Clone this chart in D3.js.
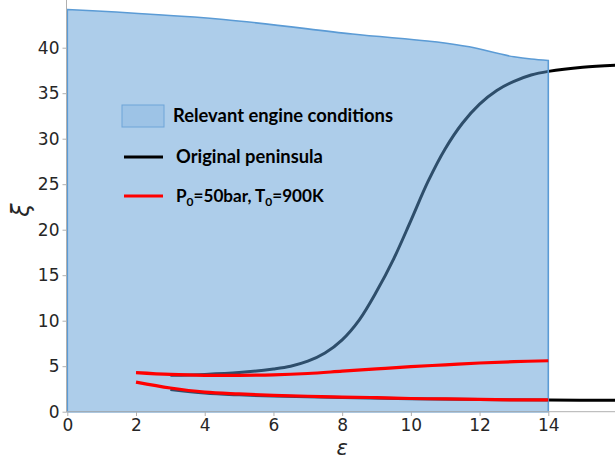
<!DOCTYPE html>
<html><head><meta charset="utf-8">
<script src="https://cdn.jsdelivr.net/npm/d3@7"></script>
<style>body{margin:0;background:#fff}svg{display:block}</style>
</head><body>
<svg id="c" width="615" height="460"></svg>
<script>
// ---- data ----
const xTicks = [0, 2, 4, 6, 8, 10, 12, 14];
const yTicks = [0, 5, 10, 15, 20, 25, 30, 35, 40];
// relevant engine conditions (upper boundary of region, x from 0 to 14)
const regionX = [0, 4.55, 8.3, 11.7, 13.0, 13.5, 14];
const regionTop = [44.2, 43.1, 41.5, 40.1, 39.0, 38.75, 38.6];
// original peninsula, upper branch
const origUpperX = [3, 4, 5, 6, 6.5, 7, 7.5, 8, 8.5, 9, 9.5, 10, 10.5, 11, 11.5, 12, 12.5, 13, 13.5, 14, 15, 16.2];
const origUpperY = [4.0, 4.1, 4.3, 4.7, 5.0, 5.55, 6.45, 7.9, 10.1, 13.2, 16.8, 21.0, 25.3, 28.9, 31.7, 33.8, 35.3, 36.3, 37.0, 37.4, 37.85, 38.1];
// original peninsula, lower branch
const origLowerX = [3, 4, 5, 6, 8, 10, 12, 14, 16.2];
const origLowerY = [2.45, 2.05, 1.85, 1.72, 1.55, 1.42, 1.33, 1.28, 1.25];
// P0=50bar, T0=900K
const redUpperX = [2, 3, 4, 5, 6, 7, 8, 9, 10, 11, 12, 13, 14];
const redUpperY = [4.3, 4.1, 4.0, 4.0, 4.05, 4.2, 4.45, 4.7, 4.95, 5.15, 5.35, 5.5, 5.6];
const redLowerX = [2, 3, 4, 5, 6, 7, 8, 9, 10, 11, 12, 13, 14];
const redLowerY = [3.25, 2.6, 2.15, 1.95, 1.8, 1.7, 1.6, 1.55, 1.45, 1.4, 1.35, 1.3, 1.3];
const legendLabels = ["Relevant engine conditions", "Original peninsula"];

// ---- chart ----
const svg = d3.select("#c");
const x = d3.scaleLinear().domain([0, 14]).range([67.3, 548.3]);
const y = d3.scaleLinear().domain([0, 45]).range([411.7, 2.2]);
const zip = (a, b) => a.map((v, i) => [v, b[i]]);
const line = d3.line().x(d => x(d[0])).y(d => y(d[1])).curve(d3.curveCatmullRom.alpha(0.5));

// black peninsula (under the region)
svg.append("path").attr("d", line(zip(origUpperX, origUpperY)))
  .attr("fill", "none").attr("stroke", "#000").attr("stroke-width", 3);
svg.append("path").attr("d", line(zip(origLowerX, origLowerY)))
  .attr("fill", "none").attr("stroke", "#000").attr("stroke-width", 3);

// region
const topLine = d3.line().x(d => x(d[0])).y(d => y(d[1])).curve(d3.curveMonotoneX);
const regPath = "M" + x(0) + "," + y(0) + "L" + topLine(zip(regionX, regionTop)).slice(1) + "L" + x(14) + "," + y(0) + "Z";
svg.append("path").attr("d", regPath)
  .attr("fill", "#5b9bd5").attr("fill-opacity", 0.5)
  .attr("stroke", "#5b9bd5").attr("stroke-width", 1.6);

// red lines
svg.append("path").attr("d", line(zip(redUpperX, redUpperY)))
  .attr("fill", "none").attr("stroke", "#ff0000").attr("stroke-width", 3.2);
svg.append("path").attr("d", line(zip(redLowerX, redLowerY)))
  .attr("fill", "none").attr("stroke", "#ff0000").attr("stroke-width", 3.2);

// spines
svg.append("line").attr("x1", 66.5).attr("x2", 66.5).attr("y1", 0).attr("y2", 412)
  .attr("stroke", "#b0b0b0").attr("stroke-width", 1);
svg.append("line").attr("x1", 66).attr("x2", 615).attr("y1", 411.7).attr("y2", 411.7)
  .attr("stroke", "#b0b0b0").attr("stroke-width", 1);

// axes
const xa = svg.append("g").attr("transform", "translate(0,412)")
  .call(d3.axisBottom(x).tickValues(xTicks).tickSize(4).tickPadding(3));
const ya = svg.append("g").attr("transform", "translate(66.5,0)")
  .call(d3.axisLeft(y).tickValues(yTicks).tickSize(4).tickPadding(3));
[xa, ya].forEach(g => {
  g.select(".domain").remove();
  g.selectAll(".tick line").attr("stroke", "#b0b0b0");
  g.selectAll(".tick text").attr("fill", "#262626")
    .style("font-family", "DejaVu Sans").style("font-size", "17px");
});

// axis labels
svg.append("text").attr("x", x(8)).attr("y", 455).attr("text-anchor", "middle")
  .style("font-family", "DejaVu Sans").style("font-style", "italic").style("font-size", "21px")
  .attr("fill", "#262626").text("ε");
svg.append("text").attr("transform", "translate(29,210) rotate(-90)").attr("text-anchor", "middle")
  .style("font-family", "DejaVu Sans").style("font-style", "italic").style("font-size", "24px")
  .attr("fill", "#262626").text("ξ");

// legend
const lf = "Lato";
svg.append("rect").attr("x", 122).attr("y", 105).attr("width", 42).attr("height", 22)
  .attr("fill", "#9dc3e6").attr("stroke", "#6fa5d8").attr("stroke-width", 1);
const t1 = svg.append("text").attr("x", 173).attr("y", 122)
  .style("font-family", lf).style("font-weight", "bold").style("font-size", "17px")
  .attr("fill", "#000").text(legendLabels[0]);
svg.append("line").attr("x1", 124).attr("x2", 163).attr("y1", 157).attr("y2", 157)
  .attr("stroke", "#000").attr("stroke-width", 3);
const t2 = svg.append("text").attr("x", 176).attr("y", 163)
  .style("font-family", lf).style("font-weight", "bold").style("font-size", "17px")
  .attr("fill", "#000").text(legendLabels[1]);
svg.append("line").attr("x1", 124).attr("x2", 163).attr("y1", 196).attr("y2", 196)
  .attr("stroke", "#ff0000").attr("stroke-width", 3);
const t3 = svg.append("text").attr("x", 176).attr("y", 202)
  .style("font-family", lf).style("font-weight", "bold").style("font-size", "17px")
  .attr("fill", "#000");
t3.append("tspan").text("P");
t3.append("tspan").attr("dy", 4).style("font-size", "12px").text("0");
t3.append("tspan").attr("dy", -4).text("=50bar, T");
t3.append("tspan").attr("dy", 4).style("font-size", "12px").text("0");
t3.append("tspan").attr("dy", -4).text("=900K");

// fit legend text widths to the reference
[[t1, 220], [t2, 147], [t3, 148]].forEach(([t, w]) => {
  const cur = t.node().getComputedTextLength();
  const s = 17 * w / cur;
  t.style("font-size", s.toFixed(2) + "px");
  t.selectAll("tspan").filter(function(){ return this.textContent === "0"; })
    .style("font-size", (s * 0.7).toFixed(2) + "px");
});
</script>
</body></html>
